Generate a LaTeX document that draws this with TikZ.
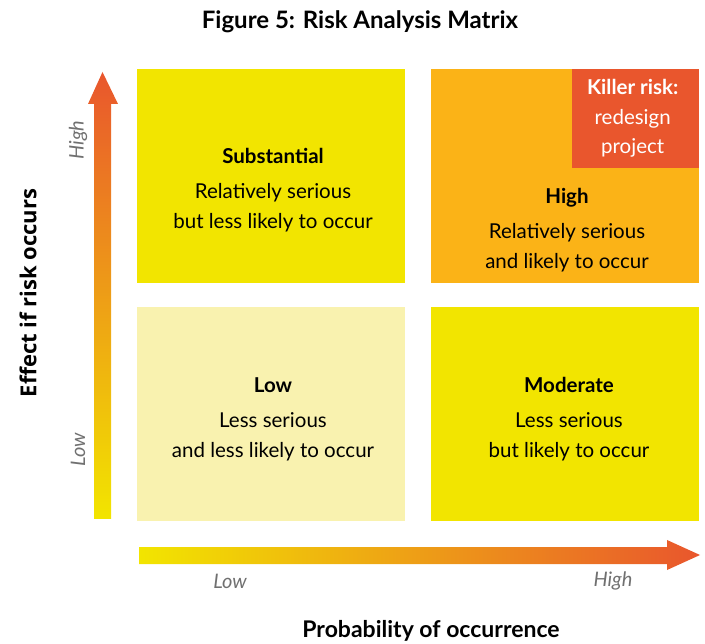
\documentclass[tikz,border=0pt]{standalone}
\usepackage{fontspec}
\setmainfont{Lato}
\newfontfamily\axisfont{Open Sans}
\usetikzlibrary{positioning}

\definecolor{riskyellow}{HTML}{F2E500}
\definecolor{riskorange}{HTML}{FBB317}
\definecolor{riskpale}{HTML}{F9F2AF}
\definecolor{riskred}{HTML}{E9562D}
\definecolor{axisgray}{HTML}{707070}

\begin{document}
\begin{tikzpicture}[x=1pt, y=-1pt,
    every node/.style={inner sep=0pt, text=black},
    cell/.style={anchor=north west, minimum width=268pt, minimum height=214pt},
    celltext/.style={align=center, font=\fontsize{20.5}{29.5}\selectfont},
    axislabel/.style={text=axisgray, font=\fontsize{20}{24}\selectfont\itshape},
    ]
  \useasboundingbox (0,0) rectangle (705,644);

  \node[font=\fontsize{24}{28}\selectfont\bfseries] (title) at (360,22) {Figure 5: Risk Analysis Matrix};

  % the four cells
  \node[cell, fill=riskyellow] (subst) at (137,69) {};
  \node[cell, fill=riskorange] (high) at (431,69) {};
  \node[cell, fill=riskpale] (low) at (137,307) {};
  \node[cell, fill=riskyellow] (moder) at (431,307) {};
  \node[anchor=north east, fill=riskred, minimum width=127pt, minimum height=99pt] (killer) at (high.north east) {};

  \node[celltext] (substtext) at (273,190) {\textbf{Substantial}\\[6pt]Relatively serious\\but less likely to occur};
  \node[celltext] (hightext) at (567,230) {\textbf{High}\\[6pt]Relatively serious\\and likely to occur};
  \node[celltext] (lowtext) at (273,419) {\textbf{Low}\\[6pt]Less serious\\and less likely to occur};
  \node[celltext] (modertext) at (569,419) {\textbf{Moderate}\\[6pt]Less serious\\but likely to occur};
  \node[celltext, text=white] (killertext) at ([xshift=-3pt]killer.center) {\textbf{Killer risk:}\\redesign\\project};

  % axes
  \shade[bottom color=riskyellow, top color=riskred]
    (94,519) -- (94,104) -- (88,104) -- (102.5,72) -- (118,104) -- (111,104) -- (111,519) -- cycle;
  \shade[left color=riskyellow, right color=riskred]
    (139,547) -- (667,547) -- (667,540) -- (700,555) -- (667,570) -- (667,564) -- (139,564) -- cycle;

  \node[axislabel, rotate=90] (yhigh) at (78,140) {High};
  \node[axislabel, rotate=90] (ylow) at (78,450) {Low};
  \node[axislabel] (xlow) at (230,581) {Low};
  \node[axislabel] (xhigh) at (613,581) {High};

  \node[rotate=90, font=\fontsize{22}{26}\selectfont\axisfont\bfseries] (ytitle) at (28,293) {Effect if risk occurs};
  \node[font=\fontsize{23}{27}\selectfont\bfseries] (xtitle) at (431,631) {Probability of occurrence};
\end{tikzpicture}
\end{document}
